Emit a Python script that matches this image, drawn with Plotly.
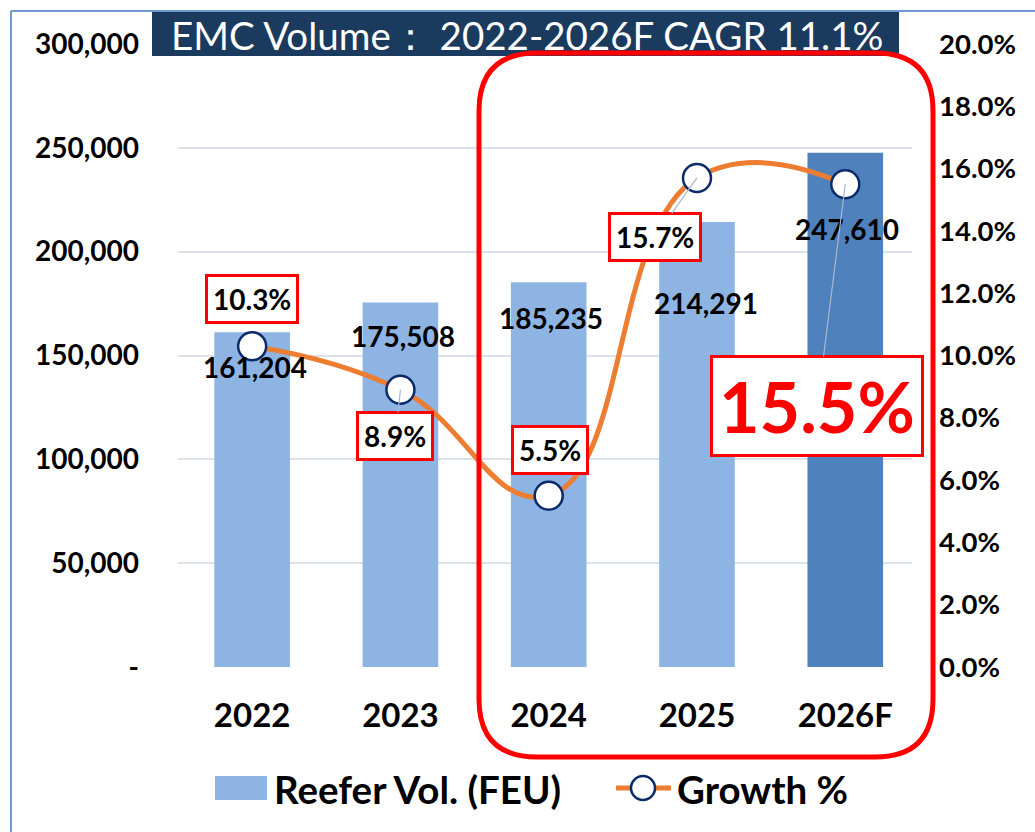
import plotly.graph_objects as go

categories = ["2022", "2023", "2024", "2025", "2026F"]
reefer_vol = [161204, 175508, 185235, 214291, 247610]
growth_pct = [0.103, 0.089, 0.055, 0.157, 0.155]
growth_text = ["10.3%", "8.9%", "5.5%", "15.7%", "15.5%"]
vol_ticks = [0, 50000, 100000, 150000, 200000, 250000, 300000]
vol_tick_text = ["-", "50,000", "100,000", "150,000", "200,000", "250,000", "300,000"]
title_text = "EMC Volume： 2022-2026F CAGR 11.1%"

W, H = 1035, 832
L, R, T, B = 178, 912, 44, 667
FONT = "Lato"


def px(x):
    return (x - L) / (R - L)


def py(y):
    return (B - y) / (B - T)


bar_colors = ["#8eb4e3"] * 4 + ["#4f81bd"]
xi = list(range(len(categories)))

fig = go.Figure()
fig.add_trace(go.Bar(x=xi, y=reefer_vol, marker=dict(color=bar_colors, line=dict(width=0)),
                     name="Reefer Vol. (FEU)", yaxis="y", width=0.51))
fig.add_trace(go.Scatter(x=xi, y=growth_pct, yaxis="y2", mode="lines+markers",
                         name="Growth %", line=dict(color="#ed7d31", width=5, shape="spline", smoothing=1.3),
                         marker=dict(size=28, color="white", line=dict(color="#0b2a6b", width=2.5))))

annotations = []
# volume labels
vol_shift = [-35, -33, -36, -81, -76]
vol_xshift = [3, 3, 2, 9, 2]
for i, (v, s, xs) in enumerate(zip(reefer_vol, vol_shift, vol_xshift)):
    annotations.append(dict(x=i, y=v, xref="x", yref="y", text=f"<b>{v:,}</b>", showarrow=False,
                            xanchor="center", yanchor="middle",
                            yshift=s, xshift=xs, font=dict(family=FONT, size=28, color="black")))
# growth labels
g_off = [(0, -47, False), (-5, 46, True), (1, -46, False), (-42, 59, True), (-28, 222, True)]
for i, (g, t) in enumerate(zip(growth_pct, growth_text)):
    ax, ay, arrow = g_off[i]
    big = i == 4
    annotations.append(dict(
        x=i, y=g, xref="x", yref="y2", text=f"<b>{t}</b>",
        showarrow=True, arrowhead=0, arrowwidth=1.2,
        arrowcolor="#a9b8cc" if arrow else "rgba(0,0,0,0)",
        ax=ax, ay=ay, axref="pixel", ayref="pixel",
        font=dict(family=FONT, size=70 if big else 28, color="#ff0000" if big else "black"),
        bgcolor="white", bordercolor="#ff0000", borderwidth=3,
        borderpad=6 if big else 5))

# title
annotations.append(dict(x=px(527), y=py(35), xref="paper", yref="paper", text=title_text,
                        xanchor="center", yanchor="middle",
                        showarrow=False, font=dict(family=FONT, size=38.5, color="white")))
# legend texts
annotations.append(dict(x=px(272), y=py(789), xref="paper", yref="paper", xanchor="left", yanchor="middle",
                        text="<b>Reefer Vol. (FEU)</b>", showarrow=False,
                        font=dict(family=FONT, size=38.5, color="black")))
annotations.append(dict(x=px(675), y=py(789), xref="paper", yref="paper", xanchor="left", yanchor="middle",
                        text="<b>Growth %</b>", showarrow=False,
                        font=dict(family=FONT, size=38.5, color="black")))

# rounded red rectangle
x0, x1, y0, y1, r = 479, 933, 53, 757, 58


def P(x, y):
    return f"{px(x):.5f},{py(y):.5f}"


path = (f"M {P(x0 + r, y0)} L {P(x1 - r, y0)} Q {P(x1, y0)} {P(x1, y0 + r)} "
        f"L {P(x1, y1 - r)} Q {P(x1, y1)} {P(x1 - r, y1)} L {P(x0 + r, y1)} "
        f"Q {P(x0, y1)} {P(x0, y1 - r)} L {P(x0, y0 + r)} Q {P(x0, y0)} {P(x0 + r, y0)} Z")

shapes = [
    # outer border
    dict(type="line", xref="paper", yref="paper", x0=px(11), x1=px(1040), y0=py(11), y1=py(11),
         line=dict(color="#6f98cf", width=2)),
    dict(type="line", xref="paper", yref="paper", x0=px(11), x1=px(11), y0=py(11), y1=py(840),
         line=dict(color="#6f98cf", width=2)),
    # title box
    dict(type="rect", xref="paper", yref="paper", x0=px(152), x1=px(899), y0=py(12), y1=py(56),
         fillcolor="#1a3a5e", line=dict(width=0)),
    # red frame
    dict(type="path", xref="paper", yref="paper", path=path, line=dict(color="#ff0000", width=5)),
    # legend swatches
    dict(type="rect", xref="paper", yref="paper", x0=px(215), x1=px(267), y0=py(776), y1=py(800),
         fillcolor="#8eb4e3", line=dict(width=0)),
    dict(type="line", xref="paper", yref="paper", x0=px(616), x1=px(671), y0=py(788), y1=py(788),
         line=dict(color="#ed7d31", width=5)),
    dict(type="circle", xref="paper", yref="paper", x0=px(631), x1=px(655), y0=py(776), y1=py(800),
         fillcolor="white", line=dict(color="#0b2a6b", width=2.5)),
]

fig.update_layout(
    width=W, height=H, autosize=False,
    margin=dict(l=L, r=W - R, t=T, b=H - B, pad=0),
    paper_bgcolor="white", plot_bgcolor="white",
    showlegend=False, bargap=0.49,
    font=dict(family=FONT, color="black"),
    xaxis=dict(range=[-0.5, 4.45], tickvals=xi, ticktext=categories, showline=False, showgrid=False,
               zeroline=False, ticks="", ticklabelstandoff=26,
               tickfont=dict(family=FONT, size=33, color="black", weight="bold")),
    yaxis=dict(range=[0, 300000], tickvals=vol_ticks, ticktext=vol_tick_text, showgrid=True,
               gridcolor="#dde2ea", gridwidth=1.5, zeroline=False, showline=False, ticks="",
               ticklabelstandoff=38, tickfont=dict(family=FONT, size=28, color="black", weight="bold")),
    yaxis2=dict(range=[0, 0.2], dtick=0.02, tickformat=".1%", overlaying="y", side="right",
                showgrid=False, zeroline=False, showline=False, ticks="", ticklabelstandoff=26,
                tickfont=dict(family=FONT, size=27.5, color="black", weight="bold")),
    annotations=annotations, shapes=shapes,
)

fig.write_html("out.html", config={"displayModeBar": False},
               post_script="document.body.style.margin='0px';")
